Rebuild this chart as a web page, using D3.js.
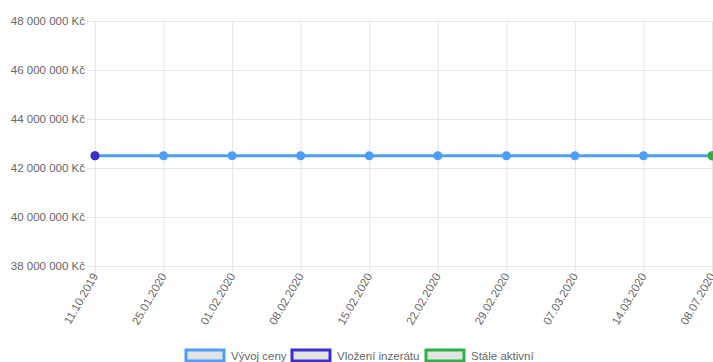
<!DOCTYPE html>
<html>
<head>
<meta charset="utf-8">
<script src="https://cdn.jsdelivr.net/npm/d3@7"></script>
<style>
body { margin: 0; background: #fff; }
svg { display: block; font-family: "Liberation Sans", Arial, sans-serif; }
</style>
</head>
<body>
<div id="chart"></div>
<script>
// data
let labels = ["11.10.2019", "25.01.2020", "01.02.2020", "08.02.2020", "15.02.2020",
              "22.02.2020", "29.02.2020", "07.03.2020", "14.03.2020", "08.07.2020"];
let priceValues = [42500000, 42500000, 42500000, 42500000, 42500000,
                   42500000, 42500000, 42500000, 42500000, 42500000];
let insertValues = [42500000, null, null, null, null, null, null, null, null, null];
let activeValues = [null, null, null, null, null, null, null, null, null, 42500000];
let yTicks = [38000000, 40000000, 42000000, 44000000, 46000000, 48000000];
let seriesNames = ["Vývoj ceny", "Vložení inzerátu", "Stále aktivní"];
let seriesColors = ["#4d9dfb", "#3a2fc9", "#2db045"];

let W = 713, H = 362;
let margin = {top: 21, right: 1, bottom: 96, left: 95};
let width = W - margin.left - margin.right;
let height = H - margin.top - margin.bottom;

let xScale = d3.scalePoint().domain(labels).range([0, width]);
let yScale = d3.scaleLinear().domain([38000000, 48000000]).range([height, 0]);

let fmt = (v) => d3.format(",")(v).replace(/,/g, " ") + " Kč";

let svg = d3.select("#chart").append("svg")
    .attr("width", W)
    .attr("height", H);

let g = svg.append("g")
    .attr("transform", "translate(" + margin.left + "," + margin.top + ")");

// grid + y axis
let yAxis = g.append("g")
    .call(d3.axisLeft(yScale).tickValues(yTicks).tickSize(-width - 8).tickFormat(fmt).tickPadding(2))
    .attr("transform", "translate(-8,0)");
yAxis.select(".domain").remove();
yAxis.selectAll(".tick line").attr("stroke", "#e6e6e6").attr("transform", "translate(0,0)");
yAxis.selectAll(".tick text").attr("fill", "#666").attr("font-size", "11.5px");

// x grid + axis
let xAxis = g.append("g")
    .attr("transform", "translate(0," + height + ")")
    .call(d3.axisBottom(xScale).tickSize(-height - 0).tickSizeOuter(0));
xAxis.select(".domain").remove();
xAxis.selectAll(".tick line").attr("stroke", "#e6e6e6").attr("y2", 6).attr("y1", -height);
xAxis.selectAll(".tick text")
    .attr("fill", "#666")
    .attr("font-size", "11.5px")
    .attr("text-anchor", "end")
    .attr("dx", 0).attr("dy", 0)
    .attr("transform", "translate(3,10) rotate(-60)")
    .attr("y", 0).attr("x", 0);

// line
let line = d3.line()
    .defined((d) => d != null)
    .x((d, i) => xScale(labels[i]))
    .y((d) => yScale(d));

g.append("path")
    .datum(priceValues)
    .attr("fill", "none")
    .attr("stroke", seriesColors[0])
    .attr("stroke-width", 3)
    .attr("d", line);

let drawPoints = (vals, color) => {
    g.selectAll(null)
        .data(vals.map((v, i) => ({v: v, l: labels[i]})).filter((d) => d.v != null))
        .enter().append("circle")
        .attr("cx", (d) => xScale(d.l))
        .attr("cy", (d) => yScale(d.v))
        .attr("r", 4.5)
        .attr("fill", color);
};
drawPoints(priceValues, seriesColors[0]);
drawPoints(insertValues, seriesColors[1]);
drawPoints(activeValues, seriesColors[2]);

// legend
let legendX = [186, 292, 426];
let legend = svg.append("g");
seriesNames.forEach((name, i) => {
    let lg = legend.append("g").attr("transform", "translate(" + legendX[i] + ",350)");
    lg.append("rect")
        .attr("x", 0).attr("y", 0)
        .attr("width", 38).attr("height", 11)
        .attr("fill", "#e3e3e3")
        .attr("stroke", seriesColors[i])
        .attr("stroke-width", 3);
    lg.append("text")
        .attr("x", 45).attr("y", 10)
        .attr("fill", "#666")
        .attr("font-size", "11.5px")
        .text(name);
});
</script>
</body>
</html>
